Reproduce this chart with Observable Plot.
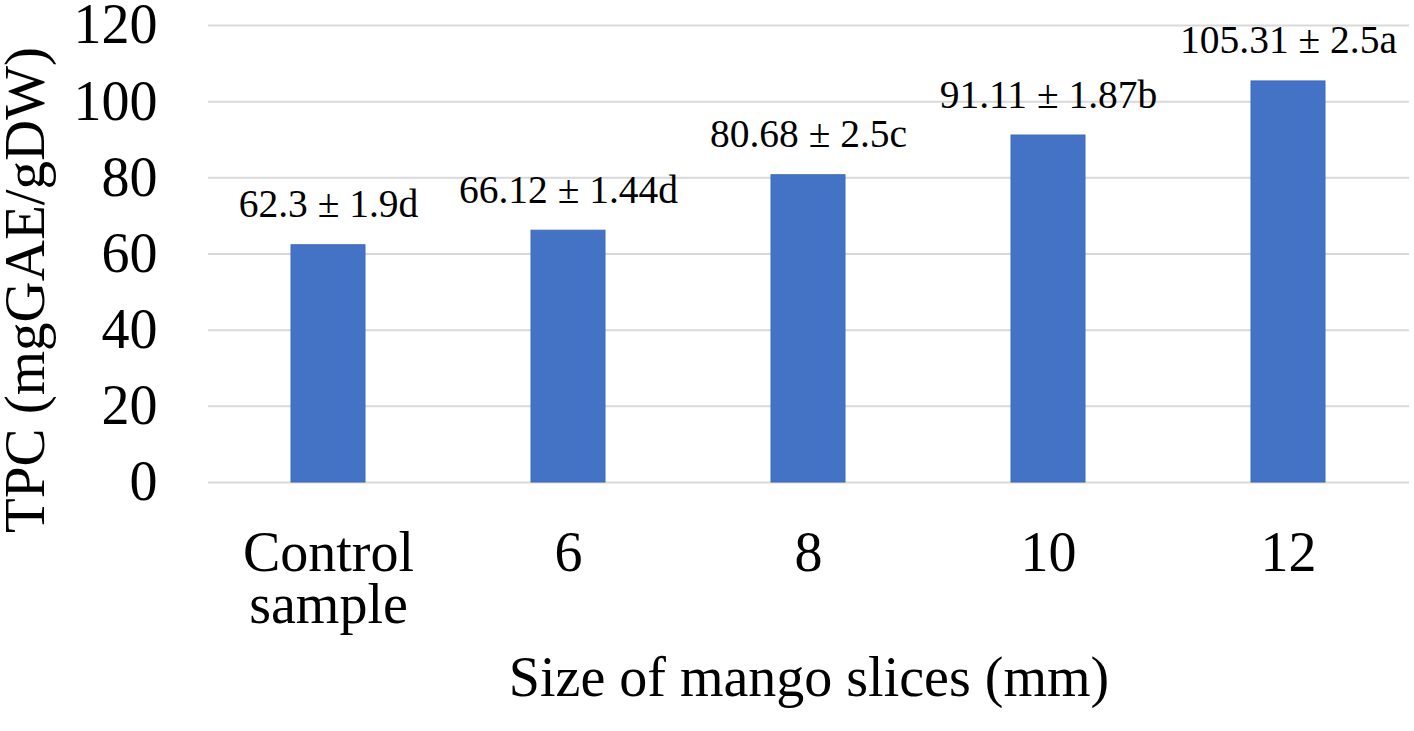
<!DOCTYPE html>
<html>
<head>
<meta charset="utf-8">
<script src="https://cdn.jsdelivr.net/npm/d3@7"></script>
<script src="https://cdn.jsdelivr.net/npm/@observablehq/plot@0.6"></script>
<style>
  html, body { margin: 0; padding: 0; background: #fff; }
  #chart svg { display: block; background: #fff; }
</style>
</head>
<body>
<div id="chart"></div>
<script>
const categories = ["Control sample", "6", "8", "10", "12"];
const tickLabels = ["Control\nsample", "6", "8", "10", "12"];
const tpc = [62.3, 66.12, 80.68, 91.11, 105.31];
const errors = [1.9, 1.44, 2.5, 1.87, 2.5];
const letters = ["d", "d", "c", "b", "a"];
const yTicks = [0, 20, 40, 60, 80, 100, 120];
const xTitle = "Size of mango slices (mm)";
const yTitle = "TPC (mgGAE/gDW)";

const rows = categories.map((c, i) => ({
  cat: c,
  tick: tickLabels[i],
  value: tpc[i],
  label: `${tpc[i]} ± ${errors[i]}${letters[i]}`
}));

const font = "Liberation Serif, Times New Roman, serif";

const chart = Plot.plot({
  width: 1414,
  height: 731,
  marginLeft: 208,
  marginRight: 5,
  marginTop: 25,
  marginBottom: 249,
  style: { fontFamily: font, color: "#000", background: "#fff" },
  x: { type: "band", domain: categories, paddingInner: 0.69, paddingOuter: 0.345, align: 0.5, axis: null },
  y: { domain: [0, 120], axis: null },
  marks: [
    Plot.ruleY(yTicks, { y: d => d, stroke: "#d9d9d9", strokeWidth: 2 }),
    Plot.barY(rows, { x: "cat", y: "value", fill: "#4472C4", stroke: "#3f6abb", strokeWidth: 1 }),
    Plot.axisY(yTicks, { tickSize: 0, tickPadding: 51, fontSize: 56, fontFamily: font, fill: "#000", label: null }),
    Plot.text(rows, { x: "cat", text: "tick", frameAnchor: "bottom", lineAnchor: "top", dy: 52, lineHeight: 0.92, fontSize: 56, fontFamily: font, fill: "#000" }),
    Plot.text(rows, { x: "cat", y: "value", text: "label", lineAnchor: "bottom", dy: -28, fontSize: 39.5, fontFamily: font, fill: "#000" }),
    Plot.text([xTitle], { text: d => d, frameAnchor: "bottom", dy: 213, fontSize: 56, fontFamily: font, fill: "#000" }),
    Plot.text([yTitle], { text: d => d, frameAnchor: "left", textAnchor: "middle", rotate: -90, dx: -183, dy: 36, fontSize: 57, fontFamily: font, fill: "#000" })
  ]
});
document.getElementById("chart").appendChild(chart);
</script>
</body>
</html>
